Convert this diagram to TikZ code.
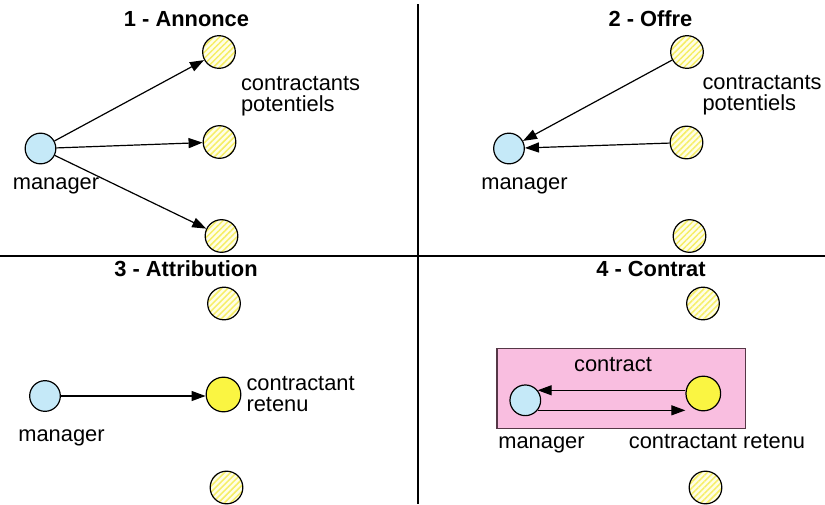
\documentclass[tikz,border=0pt]{standalone}
\usepackage{fontspec}
\setmainfont{Liberation Sans}
\usetikzlibrary{arrows.meta,patterns.meta}

\tikzset{every picture/.style={line width=0.75pt}}

\definecolor{mgrblue}{RGB}{197,233,248}
\definecolor{ctryellow}{RGB}{250,245,66}
\definecolor{hatchyellow}{RGB}{246,238,100}
\definecolor{boxpink}{RGB}{249,190,224}
\definecolor{boxedge}{RGB}{85,55,70}

\begin{document}
\begin{tikzpicture}[x=0.75pt,y=0.75pt,yscale=-1,xscale=1,
  agent/.style={circle,draw,line width=0.9pt,inner sep=0pt},
  manager/.style={agent,fill=mgrblue,minimum size=23pt},
  potentiel/.style={agent,minimum size=24.5pt,preaction={fill=yellow!10},
    pattern={Lines[angle=45,distance=3.2pt,line width=1.1pt]},pattern color=hatchyellow},
  retenu/.style={agent,fill=ctryellow,minimum size=26pt},
  lbl/.style={font=\fontsize{16.4}{15.75}\selectfont,inner sep=0pt},
  titre/.style={lbl,font=\fontsize{16.4}{15.75}\selectfont\bfseries,anchor=base},
  arr/.style={-{Triangle[length=10.5pt,width=7.5pt]},line width=0.9pt}]
\useasboundingbox (0,0) rectangle (825,504);

%Straight Lines: quadrant separators
\draw [line width=1.1pt] (418,4) -- (418,504) ;
\draw [line width=1.1pt] (0,256) -- (825,256) ;

% 1 - Annonce
\node [titre] (t1) at (186.5,26) {1 - Annonce};
\node [manager] (m1) at (40.5,148.5) {};
\node [potentiel] (p11) at (219,52) {};
\node [potentiel] (p12) at (219.5,142) {};
\node [potentiel] (p13) at (221.5,236) {};
\node [lbl,anchor=base] (lm1) at (56,189) {manager};
\node [lbl,anchor=north west,align=left] (lp1) at (240.5,75.5) {contractants\\potentiels};
\draw [arr] (m1) -- (p11) ;
\draw [arr] (m1) -- (p12) ;
\draw [arr] (m1) -- (p13) ;

% 2 - Offre
\node [titre] (t2) at (650.5,26) {2 - Offre};
\node [manager] (m2) at (509,148.5) {};
\node [potentiel] (p21) at (687,52) {};
\node [potentiel] (p22) at (686.5,142.5) {};
\node [potentiel] (p23) at (689.5,236) {};
\node [lbl,anchor=base] (lm2) at (524.5,189) {manager};
\node [lbl,anchor=north west,align=left] (lp2) at (702,75) {contractants\\potentiels};
\draw [arr] (p21) -- (m2) ;
\draw [arr] (p22) -- (m2) ;

% 3 - Attribution
\node [titre] (t3) at (186,276.5) {3 - Attribution};
\node [manager] (m3) at (45,396) {};
\node [potentiel] (p31) at (224,303.5) {};
\node [retenu] (r3) at (223.5,394.5) {};
\node [potentiel] (p33) at (226.5,487.5) {};
\node [lbl,anchor=base] (lm3) at (61.5,441) {manager};
\node [lbl,anchor=north west,align=left] (lr3) at (246,375.5) {contractant\\retenu};
\draw [arr] (m3) -- (m3 -| r3.west) ;

% 4 - Contrat
\node [titre] (t4) at (651,276.5) {4 - Contrat};
\draw [color=boxedge,fill=boxpink,line width=0.9pt] (497,348.3) rectangle (745.7,428.3) ;
\node [lbl,anchor=base] (lc4) at (613,371) {contract};
\node [manager] (m4) at (525.3,400.3) {};
\node [potentiel] (p41) at (703,303.5) {};
\node [retenu] (r4) at (703.3,393.5) {};
\node [potentiel] (p43) at (705.5,487.5) {};
\node [lbl,anchor=base] (lm4) at (541.5,448) {manager};
\node [lbl,anchor=base] (lr4) at (717,448) {contractant retenu};
\draw [arr] (m4.39 -| r4.west) -- (m4.39) ;
\draw [arr] (m4.-39) -- (m4.-39 -| r4.west) ;

\end{tikzpicture}
\end{document}
